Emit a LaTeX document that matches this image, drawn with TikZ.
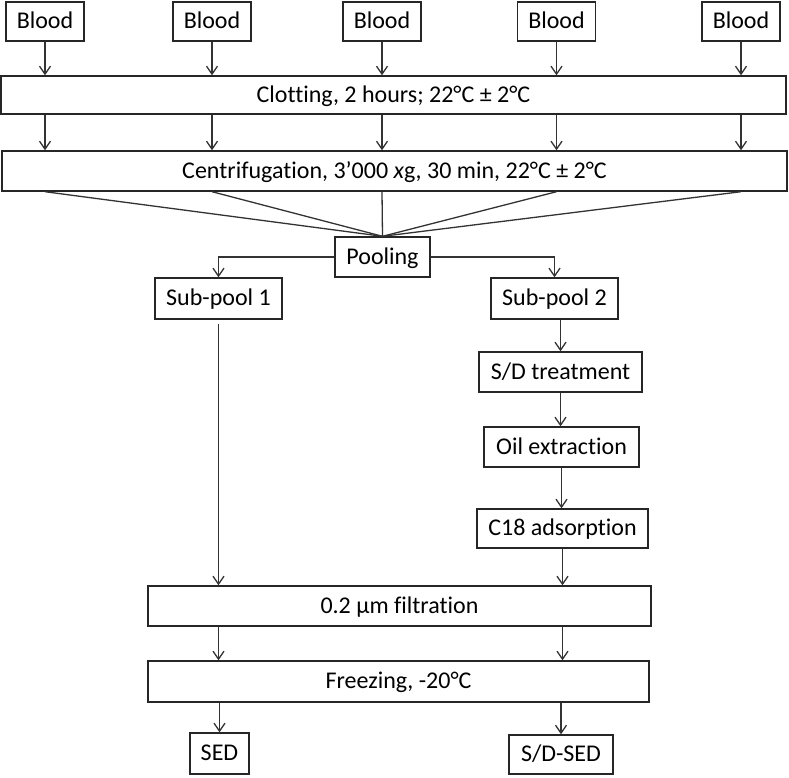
\documentclass[tikz,border=0pt]{standalone}
\usepackage{fontspec}
\setmainfont{Carlito}[Ligatures=NoCommon]
\usetikzlibrary{arrows.meta}

\tikzset{
  box/.style={draw=black!85,line width=1.4pt,fill=white,inner sep=0pt,
    text height=18pt,text depth=4pt,font=\fontsize{24}{28}\selectfont},
  arr/.style={draw=black!80,line width=1.3pt,-{Straight Barb[length=8pt,width=11pt]}},
  ln/.style={draw=black!80,line width=1.3pt},
}

\begin{document}
\begin{tikzpicture}[x=1pt,y=-1pt]
\useasboundingbox (0,0) rectangle (789,777);

% boxes of the first rows:
\path (45,21.5) node[box,minimum width=78,minimum height=39] (blood1) {Blood};
\path (212,21.5) node[box,minimum width=78,minimum height=39] (blood2) {Blood};
\path (382,21.5) node[box,minimum width=78,minimum height=39] (blood3) {Blood};
\path (556.5,21.5) node[box,minimum width=78,minimum height=39] (blood4) {Blood};
\path (741,21.5) node[box,minimum width=78,minimum height=39] (blood5) {Blood};
\path (393.5,95) node[box,minimum width=785,minimum height=38] (clot) {Clotting, 2 hours; 22°C ± 2°C};
\path (394.5,171) node[box,minimum width=785,minimum height=40] (cent) {Centrifugation, 3’000 \textit{x}g, 30 min, 22°C ± 2°C};
\path (382.5,257) node[box,minimum width=95,minimum height=40] (pool) {Pooling};

% boxes of the two branches:
\path (218.5,298.5) node[box,minimum width=127,minimum height=41] (sub1) {Sub-pool 1};
\path (554.5,298.5) node[box,minimum width=127,minimum height=41] (sub2) {Sub-pool 2};
\path (560.5,372) node[box,minimum width=163,minimum height=40] (sdt) {S/D treatment};
\path (561.5,447) node[box,minimum width=155,minimum height=40] (oil) {Oil extraction};
\path (562.5,528.5) node[box,minimum width=171,minimum height=39] (c18) {C18 adsorption};

% boxes of the last rows:
\path (399.5,606) node[box,minimum width=503,minimum height=40] (filt) {0.2 µm filtration};
\path (398.5,681.5) node[box,minimum width=501,minimum height=41] (frz) {Freezing, -20°C};
\path (219.5,753.5) node[box,minimum width=59,minimum height=41] (sed) {SED};
\path (561,754.5) node[box,minimum width=104,minimum height=39] (sdsed) {S/D-SED};

% blood to clotting:
\draw[arr] (blood1) -- (blood1 |- clot.north);
\draw[arr] (blood2) -- (blood2 |- clot.north);
\draw[arr] (blood3) -- (blood3 |- clot.north);
\draw[arr] (blood4) -- (blood4 |- clot.north);
\draw[arr] (blood5) -- (blood5 |- clot.north);

% clotting to centrifugation:
\draw[arr] (blood1 |- clot.south) -- (blood1 |- cent.north);
\draw[arr] (blood2 |- clot.south) -- (blood2 |- cent.north);
\draw[arr] (blood3 |- clot.south) -- (blood3 |- cent.north);
\draw[arr] (blood4 |- clot.south) -- (blood4 |- cent.north);
\draw[arr] (blood5 |- clot.south) -- (blood5 |- cent.north);

% centrifugation to pooling:
\draw[ln] (blood1 |- cent.south) -- (pool.north);
\draw[ln] (blood2 |- cent.south) -- (pool.north);
\draw[ln] (blood3 |- cent.south) -- (pool.north);
\draw[ln] (blood4 |- cent.south) -- (pool.north);
\draw[ln] (blood5 |- cent.south) -- (pool.north);

% pooling to the sub-pools:
\draw[arr] (pool.west) -| (sub1.north);
\draw[arr] (pool.east) -| (sub2.north);

% right branch:
\draw[arr] (sub2.south -| sdt) -- (sdt.north);
\draw[arr] (sdt.south) -- (sdt.south |- oil.north);
\draw[arr] (oil.south) -- (oil.south |- c18.north);
\draw[arr] (c18) -- (c18 |- filt.north);

% left branch:
\draw[arr] ([yshift=-4pt]sub1.south) -- (sub1 |- filt.north);

% filtration, freezing and products:
\draw[arr] (sub1 |- filt.south) -- (sub1 |- frz.north);
\draw[arr] (c18 |- filt.south) -- (c18 |- frz.north);
\draw[arr] (sed |- frz.south) -- (sed.north);
\draw[arr] (sdsed |- frz.south) -- (sdsed.north);

\end{tikzpicture}
\end{document}
